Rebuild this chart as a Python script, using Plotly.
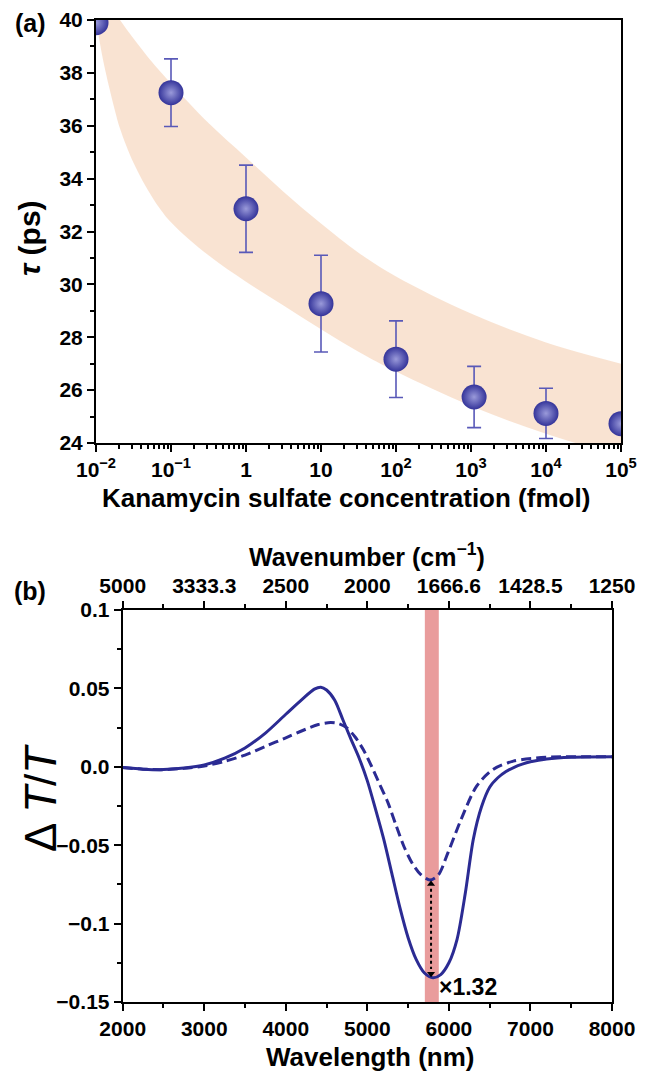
import plotly.graph_objects as go

# ---------------- Panel (a) data ----------------
conc = [0.01, 0.1, 1, 10, 100, 1100, 10000, 100000]
tau = [39.9, 37.25, 32.86, 29.27, 27.17, 25.74, 25.12, 24.73]
tau_err = [None, 1.28, 1.65, 1.83, 1.45, 1.16, 0.95, None]

band_conc = [0.01, 0.0126, 0.0178, 0.0209, 0.0316, 0.0562, 0.1, 0.316, 1, 3.16, 10, 31.6,
             100, 1000, 10000, 100000]
band_upper = [41.9, 41.3, 40.3, 40.0, 39.3, 38.4, 37.6, 36.1, 34.8, 33.5, 32.3, 31.2,
              30.3, 28.9, 27.8, 27.0]
band_lower = [40.0, 38.4, 36.6, 35.9, 34.6, 33.3, 32.35, 31.1, 30.1, 29.2, 28.3, 27.45,
              26.7, 25.4, 24.35, 23.5]

a_xticks = [0.01, 0.1, 1, 10, 100, 1000, 10000, 100000]
a_xticktext = ["10<sup>−2</sup>", "10<sup>−1</sup>", "1", "10", "10<sup>2</sup>",
               "10<sup>3</sup>", "10<sup>4</sup>", "10<sup>5</sup>"]

# ---------------- Panel (b) data ----------------
wl_solid = [2000, 2250, 2500, 2750, 3000, 3250, 3500, 3750, 4000, 4200, 4350, 4430, 4500,
            4600, 4700, 4800, 4900, 5000, 5100, 5200, 5300, 5400, 5500, 5600, 5700, 5806,
            5900, 6000, 6100, 6200, 6300, 6400, 6500, 6600, 6700, 6800, 6900, 7000, 7200,
            7500, 8000]
dT_solid = [-0.0005, -0.0015, -0.0018, -0.0008, 0.0012, 0.0055, 0.0120, 0.0215, 0.0335, 0.0430,
            0.0495, 0.0508, 0.0490, 0.0425, 0.0300, 0.0175, 0.0055, -0.0090, -0.0270, -0.0460,
            -0.0680, -0.0900, -0.1090, -0.1230, -0.1315, -0.1345, -0.1325, -0.1250, -0.1100,
            -0.0810, -0.0460, -0.0255, -0.0130, -0.0070, -0.0030, -0.0003, 0.0017, 0.0032,
            0.0050, 0.0061, 0.0064]

wl_dash = [2000, 2250, 2500, 2750, 3000, 3250, 3500, 3750, 4000, 4200, 4400, 4550, 4650, 4750,
           4850, 4950, 5050, 5150, 5250, 5350, 5450, 5550, 5650, 5766, 5870, 5990, 6150, 6340,
           6540, 6790, 7200, 8000]
dT_dash = [-0.0005, -0.0015, -0.0018, -0.0010, 0.0005, 0.0035, 0.0075, 0.0130, 0.0185, 0.0230,
           0.0270, 0.0282, 0.0275, 0.0248, 0.0190, 0.0110, 0.0005, -0.0110, -0.0225, -0.0370,
           -0.0510, -0.0615, -0.0685, -0.0722, -0.0690, -0.0546, -0.0335, -0.0123, -0.0017,
           0.0036, 0.0061, 0.0064]

wl_ticks = [2000, 3000, 4000, 5000, 6000, 7000, 8000]
wavenumber_text = ["5000", "3333.3", "2500", "2000", "1666.6", "1428.5", "1250"]
b_yticks = [0.1, 0.05, 0.0, -0.05, -0.1, -0.15]
b_yticktext = ["0.1", "0.05", "0.0", "−0.05", "−0.1", "−0.15"]
band_wl = [5705, 5876]
ratio_label = "×1.32"

# ---------------- Styling ----------------
W, H = 654, 1072
FONT = "Liberation Sans, Arial, sans-serif"
NAVY = "#2B2B93"
def px(x):
    return x / W
def py(y):
    return 1 - y / H

a_minor = [m * d for d in a_xticks[:-1] for m in range(2, 10)]

fig = go.Figure()

fig.add_trace(go.Scatter(x=band_conc, y=band_lower, mode="lines", line=dict(width=0, shape="spline"),
                         showlegend=False, hoverinfo="skip", xaxis="x", yaxis="y"))
fig.add_trace(go.Scatter(x=band_conc, y=band_upper, mode="lines", line=dict(width=0, shape="spline"),
                         fill="tonexty", fillcolor="rgba(248,222,202,0.85)",
                         showlegend=False, hoverinfo="skip", xaxis="x", yaxis="y"))
fig.add_trace(go.Scatter(
    x=conc, y=tau, mode="markers",
    error_y=dict(type="data", array=tau_err, visible=True, color="#5959B8", thickness=1.6, width=7),
    marker=dict(size=25, color="#34349A", gradient=dict(type="radial", color="#9A9ADA"),
                line=dict(width=0)),
    showlegend=False, xaxis="x", yaxis="y"))

fig.add_trace(go.Scatter(x=wl_dash, y=dT_dash, mode="lines",
                         line=dict(color=NAVY, width=3, dash="10px,5px", shape="spline", smoothing=0.8),
                         showlegend=False, xaxis="x2", yaxis="y2"))
fig.add_trace(go.Scatter(x=wl_solid, y=dT_solid, mode="lines",
                         line=dict(color=NAVY, width=3, shape="spline", smoothing=0.8),
                         showlegend=False, xaxis="x2", yaxis="y2"))

i_d = dT_dash.index(min(dT_dash))
i_s = dT_solid.index(min(dT_solid))
xa = wl_dash[i_d] + 15
y_top = dT_dash[i_d] - 0.0025
y_bot = dT_solid[i_s] + 0.0025
fig.add_trace(go.Scatter(x=[xa, xa], y=[y_top - 0.003, y_bot + 0.003], mode="lines",
                         line=dict(color="black", width=2, dash="dot"),
                         showlegend=False, xaxis="x2", yaxis="y2"))
fig.add_trace(go.Scatter(x=[xa, xa], y=[y_top, y_bot], mode="markers",
                         marker=dict(symbol=["triangle-up", "triangle-down"], size=7, color="black"),
                         showlegend=False, xaxis="x2", yaxis="y2"))
fig.add_trace(go.Scatter(x=wl_ticks, y=[None] * len(wl_ticks), mode="markers",
                         showlegend=False, hoverinfo="skip", xaxis="x3", yaxis="y2"))

TF = dict(family=FONT, size=21, color="black", weight="bold")
axis_common = dict(showline=True, linecolor="black", linewidth=2, ticks="outside",
                   tickcolor="black", tickwidth=2, showgrid=False, zeroline=False,
                   automargin=False, tickfont=TF)
MINOR = dict(ticks="outside", ticklen=4, tickwidth=1.5, tickcolor="black", showgrid=False)

fig.update_layout(
    width=W, height=H, margin=dict(l=0, r=0, t=0, b=0, pad=0), autosize=False,
    paper_bgcolor="white", plot_bgcolor="white",
    font=dict(family=FONT, color="black"),
    xaxis=dict(**axis_common, type="log", domain=[px(96), px(621)], anchor="y",
               range=[-2, 5], tickvals=a_xticks, ticktext=a_xticktext, ticklen=7,
               mirror=True, minor=dict(**MINOR, tickvals=a_minor)),
    yaxis=dict(**axis_common, domain=[py(443), py(20)], anchor="x", range=[24, 40],
               dtick=2, ticklen=7, mirror=True, minor=dict(**MINOR, dtick=1)),
    xaxis2=dict(**axis_common, domain=[px(122.7), px(612)], anchor="y2", range=[2000, 8000],
                tickvals=wl_ticks, ticktext=[str(v) for v in wl_ticks], ticklen=7, mirror=True,
                minor=dict(**MINOR, dtick=500)),
    xaxis3=dict(**axis_common, overlaying="x2", anchor="y2", side="top", range=[2000, 8000],
                tickvals=wl_ticks, ticktext=wavenumber_text, ticklen=7,
                minor=dict(**MINOR, dtick=500)),
    yaxis2=dict(**axis_common, domain=[py(1002), py(610)], anchor="x2", range=[-0.15, 0.1],
                tickvals=b_yticks, ticktext=b_yticktext, ticklen=7, mirror=True,
                minor=dict(**MINOR, dtick=0.025)),
)

fig.add_shape(type="rect", xref="x2", yref="y2", x0=band_wl[0], x1=band_wl[1], y0=-0.15, y1=0.1,
              fillcolor="#E99C9C", line=dict(width=0), layer="below")

def ann(text, x, y, size, bold=True, angle=0, xanchor="center"):
    fig.add_annotation(text=("<b>%s</b>" % text) if bold else text, x=x, y=y,
                       xref="paper", yref="paper", showarrow=False, textangle=angle,
                       xanchor=xanchor, yanchor="middle",
                       font=dict(family=FONT, size=size, color="black"))

ann("(a)", px(30), py(23), 25)
ann("(b)", px(30), py(591), 25)
ann("<i>τ</i> (ps)", px(30), py(238), 30, angle=-90)
ann("Kanamycin sulfate concentration (fmol)", px(346), py(498), 26)
ann("Wavenumber (cm<sup>−1</sup>)", px(367), py(555), 25)
ann("Wavelength (nm)", px(370), py(1057), 26)
ann("Δ <i>T</i>/<i>T</i>", px(40), py(798), 44, bold=False, angle=-90)

fig.add_annotation(text="<b>%s</b>" % ratio_label, x=wl_solid[i_s] + 50, y=dT_solid[i_s] - 0.006,
                   xref="x2", yref="y2", showarrow=False, xanchor="left", yanchor="middle",
                   font=dict(family=FONT, size=23, color="black"))

fig.write_html("out.html", config={"displayModeBar": False},
               post_script="document.body.style.margin='0px';")
